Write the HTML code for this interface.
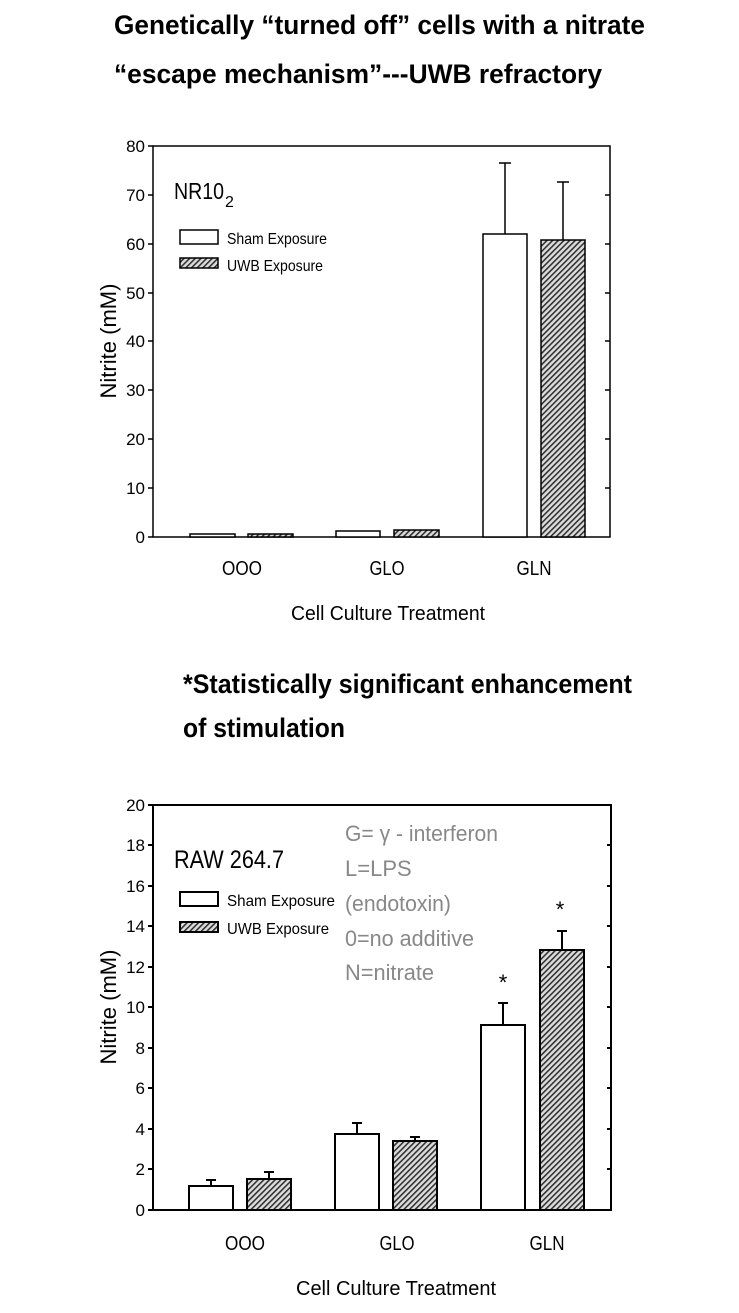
<!DOCTYPE html>
<html><head><meta charset="utf-8"><style>
html,body{margin:0;padding:0;background:#fff;}
svg{display:block;font-family:"Liberation Sans",sans-serif;}
</style></head><body>
<svg width="739" height="1313" viewBox="0 0 739 1313" xmlns="http://www.w3.org/2000/svg">
<defs>
<pattern id="h" patternUnits="userSpaceOnUse" width="4" height="4" patternTransform="rotate(45)">
<rect width="4" height="4" fill="#ddd"/><rect width="1.6" height="4" fill="#333"/>
</pattern>
</defs>
<g font-weight="bold" font-size="27" fill="#000">
<text x="114" y="34" textLength="531" lengthAdjust="spacingAndGlyphs">Genetically “turned off” cells with a nitrate</text>
<text x="114" y="83" textLength="488" lengthAdjust="spacingAndGlyphs">“escape mechanism”---UWB refractory</text>
<text x="183" y="693" textLength="449" lengthAdjust="spacingAndGlyphs">*Statistically significant enhancement</text>
<text x="183" y="737" textLength="162" lengthAdjust="spacingAndGlyphs">of stimulation</text>
</g>

<!-- Chart 1 -->
<g stroke="#000" fill="none" stroke-width="1.5">
<rect x="153" y="146" width="457" height="391"/>
<path d="M153 146h-5M153 195h-5M153 244h-5M153 293h-5M153 341h-5M153 390h-5M153 439h-5M153 488h-5M153 537h-5"/>
<path d="M610 195h-5M610 244h-5M610 293h-5M610 341h-5M610 390h-5M610 439h-5M610 488h-5"/>
<rect x="190" y="534" width="45" height="3" fill="#fff"/>
<rect x="248" y="534" width="45" height="3" fill="url(#h)"/>
<rect x="336" y="531" width="44" height="6" fill="#fff"/>
<rect x="394" y="530" width="45" height="7" fill="url(#h)"/>
<rect x="483" y="234" width="44" height="303" fill="#fff"/>
<rect x="541" y="240" width="44" height="297" fill="url(#h)"/>
<path d="M505 234V163M499 163h12M563 240V182M557 182h12"/>
<rect x="180" y="230" width="38" height="14" fill="#fff"/>
<rect x="180" y="258" width="38" height="10" fill="url(#h)"/>
</g>
<g font-size="17" fill="#000" text-anchor="end">
<text x="145" y="152">80</text><text x="145" y="201">70</text><text x="145" y="250">60</text><text x="145" y="299">50</text><text x="145" y="347">40</text><text x="145" y="396">30</text><text x="145" y="445">20</text><text x="145" y="494">10</text><text x="145" y="543">0</text>
</g>
<text x="174" y="199" font-size="23" textLength="50" lengthAdjust="spacingAndGlyphs">NR10</text><text x="225" y="207" font-size="16">2</text>
<text x="227" y="244" font-size="16" textLength="100" lengthAdjust="spacingAndGlyphs">Sham Exposure</text>
<text x="227" y="271" font-size="16" textLength="96" lengthAdjust="spacingAndGlyphs">UWB Exposure</text>
<text transform="translate(116 341) rotate(-90)" text-anchor="middle" font-size="22" textLength="115" lengthAdjust="spacingAndGlyphs">Nitrite (mM)</text>
<g font-size="20" text-anchor="middle">
<text x="242" y="575" textLength="40" lengthAdjust="spacingAndGlyphs">OOO</text><text x="387" y="575" textLength="35" lengthAdjust="spacingAndGlyphs">GLO</text><text x="534" y="575" textLength="35" lengthAdjust="spacingAndGlyphs">GLN</text>
<text x="388" y="620" textLength="194" lengthAdjust="spacingAndGlyphs">Cell Culture Treatment</text>
</g>

<!-- Chart 2 -->
<g stroke="#000" fill="none" stroke-width="2">
<rect x="153" y="805" width="458" height="405"/>
<path d="M153 805h-5M153 845h-5M153 886h-5M153 926h-5M153 967h-5M153 1007h-5M153 1048h-5M153 1088h-5M153 1129h-5M153 1169h-5M153 1210h-5"/>
<path d="M611 845h-4M611 886h-4M611 926h-4M611 967h-4M611 1007h-4M611 1048h-4M611 1088h-4M611 1129h-4M611 1169h-4"/>
<rect x="189" y="1186" width="44" height="24" fill="#fff"/>
<rect x="247" y="1179" width="44" height="31" fill="url(#h)"/>
<rect x="335" y="1134" width="44" height="76" fill="#fff"/>
<rect x="393" y="1141" width="44" height="69" fill="url(#h)"/>
<rect x="481" y="1025" width="44" height="185" fill="#fff"/>
<rect x="540" y="950" width="44" height="260" fill="url(#h)"/>
<path d="M211 1186v-6M206 1180h10M269 1179v-7M264 1172h10M357 1134v-11M352 1123h10M415 1141v-4M410 1137h10M503 1025v-22M498 1003h10M562 950v-19M557 931h10"/>
<rect x="180" y="892" width="38" height="14" fill="#fff"/>
<rect x="180" y="922" width="38" height="10" fill="url(#h)"/>
</g>
<g font-size="17" fill="#000" text-anchor="end">
<text x="145" y="811">20</text><text x="145" y="851">18</text><text x="145" y="892">16</text><text x="145" y="932">14</text><text x="145" y="973">12</text><text x="145" y="1013">10</text><text x="145" y="1054">8</text><text x="145" y="1094">6</text><text x="145" y="1135">4</text><text x="145" y="1175">2</text><text x="145" y="1216">0</text>
</g>
<text x="174" y="868" font-size="25" textLength="110" lengthAdjust="spacingAndGlyphs">RAW 264.7</text>
<text x="227" y="906" font-size="16" textLength="108" lengthAdjust="spacingAndGlyphs">Sham Exposure</text>
<text x="227" y="934" font-size="16" textLength="102" lengthAdjust="spacingAndGlyphs">UWB Exposure</text>
<g font-size="22" fill="#888">
<text x="345" y="841" textLength="153" lengthAdjust="spacingAndGlyphs">G= γ - interferon</text>
<text x="345" y="876">L=LPS</text>
<text x="345" y="911" textLength="106" lengthAdjust="spacingAndGlyphs">(endotoxin)</text>
<text x="345" y="946" textLength="129" lengthAdjust="spacingAndGlyphs">0=no additive</text>
<text x="345" y="980" textLength="89" lengthAdjust="spacingAndGlyphs">N=nitrate</text>
</g>
<text x="503" y="990" font-size="22" text-anchor="middle">*</text>
<text x="560" y="917" font-size="22" text-anchor="middle">*</text>
<text transform="translate(116 1007) rotate(-90)" text-anchor="middle" font-size="22" textLength="115" lengthAdjust="spacingAndGlyphs">Nitrite (mM)</text>
<g font-size="20" text-anchor="middle">
<text x="245" y="1250" textLength="40" lengthAdjust="spacingAndGlyphs">OOO</text><text x="397" y="1250" textLength="35" lengthAdjust="spacingAndGlyphs">GLO</text><text x="547" y="1250" textLength="35" lengthAdjust="spacingAndGlyphs">GLN</text>
<text x="396" y="1295" textLength="200" lengthAdjust="spacingAndGlyphs">Cell Culture Treatment</text>
</g>
</svg>
</body></html>
